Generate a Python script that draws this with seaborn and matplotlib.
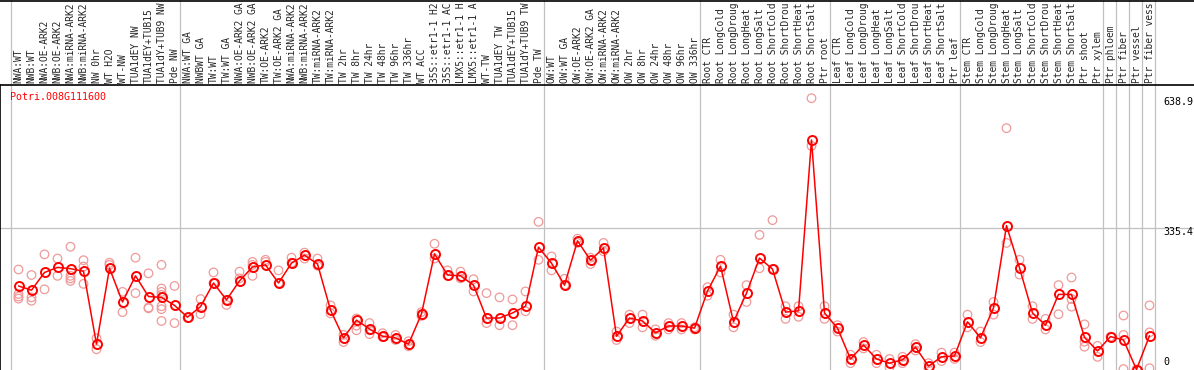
import matplotlib
matplotlib.use("Agg")
import numpy as np
import pandas as pd
import matplotlib.pyplot as plt
import matplotlib.transforms as mtransforms
import seaborn as sns

sns.set_style("white")
plt.rcParams['font.family'] = ['DejaVu Sans Mono']

GENE = "Potri.008G111600"

samples = [
    "NWA:WT", "NWB:WT", "NWA:OE-ARK2", "NWB:OE-ARK2", "NWA:miRNA-ARK2", "NWB:miRNA-ARK2",
    "NW 0hr", "WT H2O", "WT-NW", "TUA1dEY NW", "TUA1dEY+TUB15 NW", "TUA1dY+TUB9 NW", "Pde NW",
    "NWA:WT GA", "NWBWT GA", "TW:WT", "TW:WT GA", "NWA:OE-ARK2 GA", "NWB:OE-ARK2 GA",
    "TW:OE-ARK2", "TW:OE-ARK2 GA", "NWA:miRNA-ARK2", "NWB:miRNA-ARK2", "TW:miRNA-ARK2",
    "TW:miRNA-ARK2", "TW 2hr", "TW 8hr", "TW 24hr", "TW 48hr", "TW 96hr", "TW 336hr",
    "WT ACC", "35S::etr1-1 H2O", "35S::etr1-1 ACC", "LMX5::etr1-1 H2O", "LMX5::etr1-1 ACC",
    "WT-TW", "TUA1dEY TW", "TUA1dEY+TUB15 TW", "TUA1dY+TUB9 TW", "Pde TW",
    "OW:WT", "OW:WT GA", "OW:OE-ARK2", "OW:OE-ARK2 GA", "OW:miRNA-ARK2", "OW:miRNA-ARK2",
    "OW 2hr", "OW 8hr", "OW 24hr", "OW 48hr", "OW 96hr", "OW 336hr",
    "Root CTR", "Root LongCold", "Root LongDrought", "Root LongHeat", "Root LongSalt",
    "Root ShortCold", "Root ShortDrought", "Root ShortHeat", "Root ShortSalt", "Ptr root",
    "Leaf CTR", "Leaf LongCold", "Leaf LongDrought", "Leaf LongHeat", "Leaf LongSalt",
    "Leaf ShortCold", "Leaf ShortDrought", "Leaf ShortHeat", "Leaf ShortSalt", "Ptr leaf",
    "Stem CTR", "Stem LongCold", "Stem LongDrought", "Stem LongHeat", "Stem LongSalt",
    "Stem ShortCold", "Stem ShortDrought", "Stem ShortHeat", "Stem ShortSalt",
    "Ptr shoot", "Ptr xylem", "Ptr phloem", "Ptr fiber", "Ptr vessel", "Ptr fiber vessel",
]

mean_expr = [
    198, 188, 230, 242, 239, 233, 60, 240, 160, 222, 173, 171, 152,
    124, 149, 205, 165, 210, 243, 248, 205, 252, 271, 250, 141, 75, 117, 96, 79, 75, 60,
    132, 274, 224, 222, 200, 122, 122, 134, 150, 290,
    252, 200, 305, 259, 288, 79, 122, 115, 87, 103, 103, 98,
    186, 245, 113, 181, 264, 238, 136, 139, 544, 134,
    98, 25, 58, 25, 15, 23, 53, 8, 30, 32,
    113, 75, 146, 341, 241, 134, 105, 178, 178,
    76, 44, 78, 70, 0, 80,
]

replicates = [
    [237, 179, 173, 168], [224, 171, 163], [273, 190], [263, 222], [291, 222, 216, 210],
    [259, 244, 203], [74, 48], [253, 248], [184, 136], [265, 181], [228, 147, 145],
    [248, 192, 184, 177, 150, 143, 115], [198, 110],
    [122], [167, 131], [230, 205], [165, 153], [232, 216], [255, 248, 222], [260, 255],
    [235, 205], [265, 253], [277, 263], [263, 246], [152, 133], [82, 65], [121, 104, 93],
    [110, 93, 84], [86, 77], [82, 70], [67, 55], [136, 127], [298, 263], [235, 222],
    [232, 216], [214, 185], [181, 110], [171, 105], [166, 105], [185, 138], [350, 260],
    [268, 235], [215, 200], [310, 300], [265, 250], [300, 280], [90, 70], [130, 110],
    [130, 100], [95, 80], [110, 95], [110, 95], [100, 95],
    [195, 175], [260, 230], [130, 100], [200, 160], [319, 240], [354, 238], [150, 120],
    [150, 125], [643, 530], [150, 120],
    [105, 90], [35, 15], [65, 50], [35, 15], [25, 5], [30, 15], [60, 45], [15, 0],
    [40, 20], [40, 25],
    [130, 100], [90, 65], [160, 130], [572, 300], [260, 225], [150, 120], [120, 95],
    [200, 131], [218, 167, 149],
    [107, 66, 54], [56, 30], [78], [128, 82, 1], [0], [152, 88, 3],
]

idx = np.arange(len(samples))
mean_df = pd.DataFrame({"pos": idx, "value": mean_expr})
rep_df = pd.DataFrame(
    [(i, v) for i, reps in enumerate(replicates) for v in reps],
    columns=["pos", "value"],
)

W, H, DPI = 1194, 370, 100
fig = plt.figure(figsize=(W / DPI, H / DPI), dpi=DPI)
top_px = 85
ax = fig.add_axes([0, 0, 1, 1 - top_px / H])

# pixel geometry: point i sits at x = 18.5 + 13 i, value 0 at y = 369.5, 0.4219 px per unit
x0, dx = 18.5, 13.0
ax.set_xlim(-x0 / dx, (W - x0) / dx)
ax.set_ylim((369.5 - H) / 0.4219, (369.5 - top_px) / 0.4219)

# grid lines
ax.axhline(335.4, color="#c0c0c0", lw=0.9, zorder=0)
for b in [-0.5, 12.5, 40.5, 52.5, 62.5, 72.5, 83.5, 84.5, 85.5, 86.5, 87.5]:
    ax.axvline(b - 0.1, ymin=0, ymax=H / (H - top_px), color="#c0c0c0", lw=0.9,
               clip_on=False, zorder=0)

sns.scatterplot(data=rep_df, x="pos", y="value", ax=ax, s=38, linewidth=0.9,
                zorder=2, legend=False)
pts = ax.collections[-1]
pts.set_facecolor("none")
pts.set_edgecolor("#ef9a9a")

sns.lineplot(data=mean_df, x="pos", y="value", ax=ax, color="red", lw=1.1,
             marker="o", markersize=6.5, markerfacecolor="none",
             markeredgecolor="red", markeredgewidth=1.4, zorder=3)

ax.set_xlabel("")
ax.set_ylabel("")
ax.set_xticks([])
ax.set_yticks([])
for s in ["right", "bottom"]:
    ax.spines[s].set_visible(False)
ax.spines["top"].set_color("black")
ax.spines["left"].set_color("black")
ax.spines["top"].set_linewidth(1.2)
ax.spines["left"].set_linewidth(1.2)

# right-hand value labels
xr = (1163 - x0) / dx
for val, yv in [("638.9", 634), ("335.4", 326), ("0", 17)]:
    ax.text(xr, yv, val, fontsize=7.2, ha="left", va="center", color="black")

# gene id
fig.text(10 / W, 1 - 97 / H, GENE, color="red", fontsize=7.2, ha="left", va="center")

# sample labels above the plot; the header strip only holds 14 characters
trans = mtransforms.blended_transform_factory(ax.transData, fig.transFigure)
for i, name in enumerate(samples):
    ax.text(i, 1 - 83 / H, name[:14].rstrip(), transform=trans, rotation=90,
            fontsize=6.9, ha="center", va="bottom", clip_on=False)

fig.add_artist(plt.Line2D([0, 1], [1 - 0.5 / H, 1 - 0.5 / H], color="black", lw=1.2,
                          transform=fig.transFigure))

fig.savefig("out.png", dpi=DPI)
